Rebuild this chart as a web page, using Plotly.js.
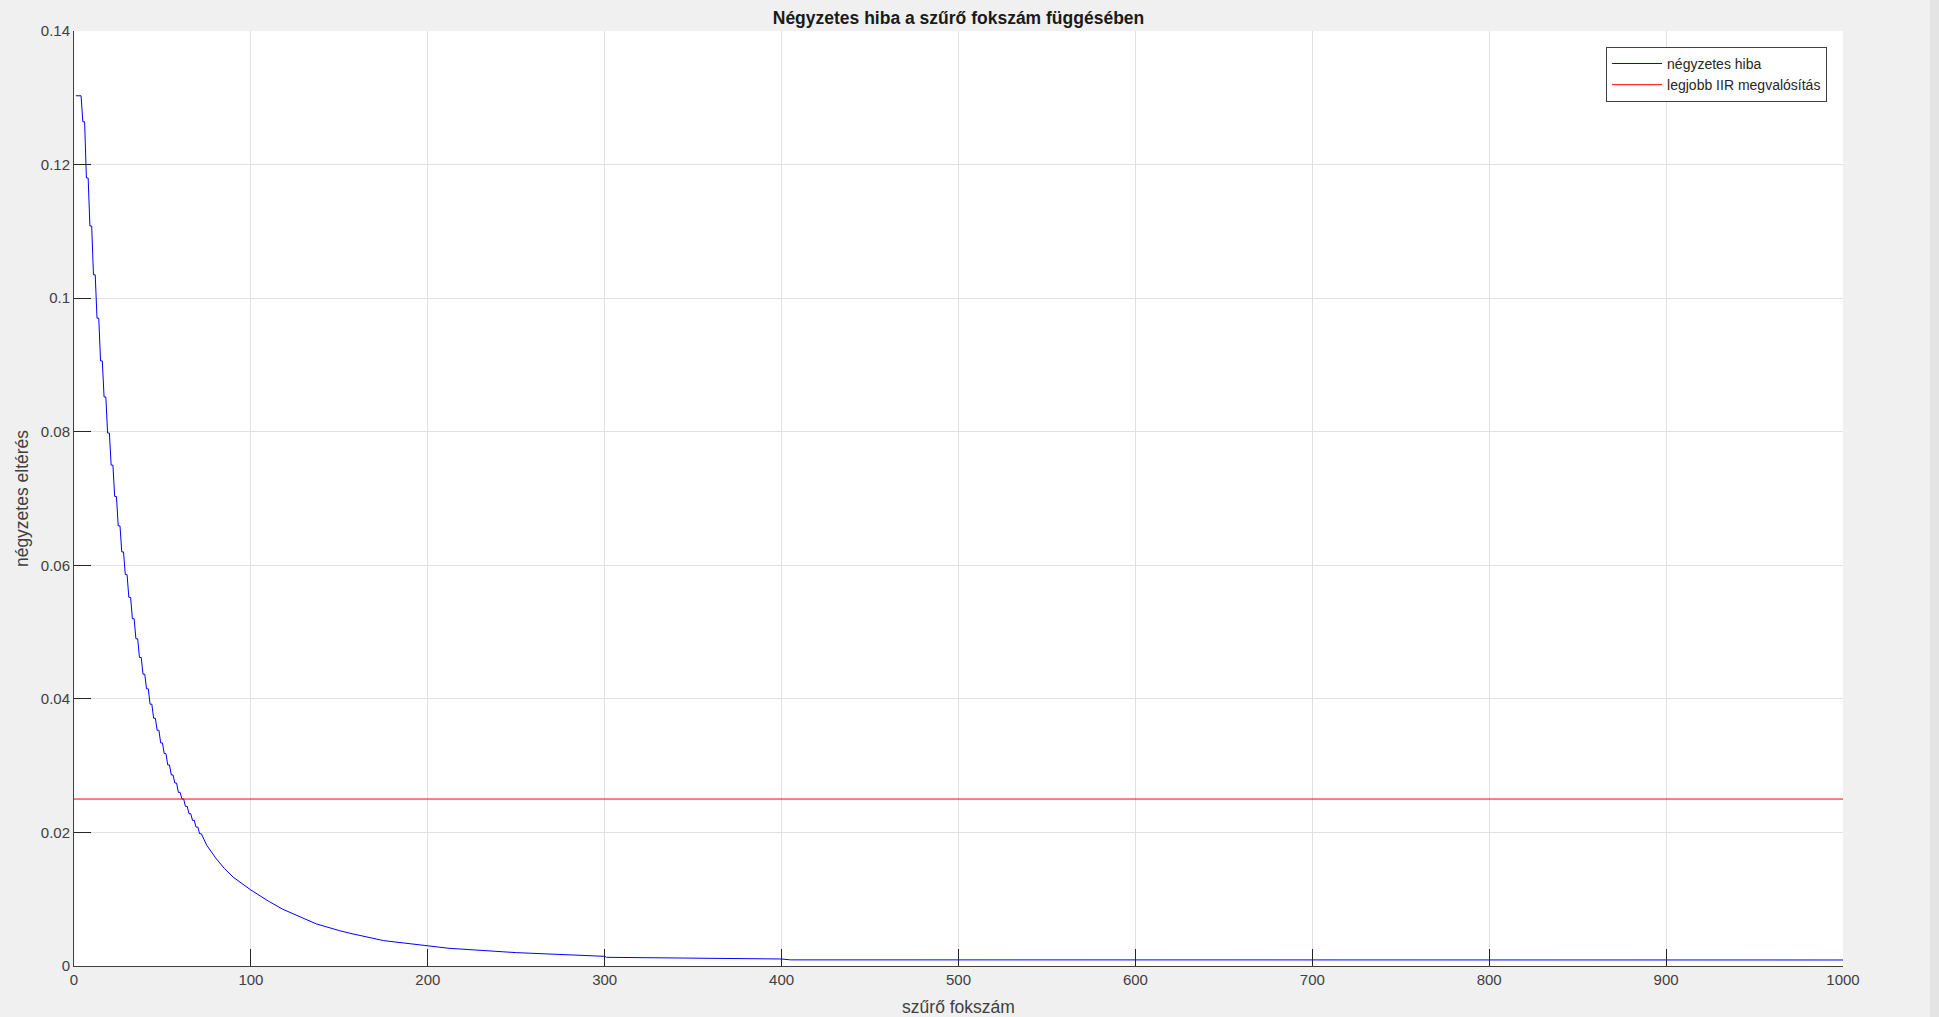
<!DOCTYPE html>
<html>
<head>
<meta charset="utf-8">
<script src="https://cdn.plot.ly/plotly-3.0.1.min.js"></script>
<style>
html,body{margin:0;padding:0;background:#F0F0F0;}
#chart{width:1939px;height:1017px;}
</style>
</head>
<body>
<div id="chart"></div>
<script>
// Filter order (szűrő fokszám)
const filterOrder = [
  1,2,3,4,5,6,7,8,9,10,
  11,12,13,14,15,16,17,18,19,20,
  21,22,23,24,25,26,27,28,29,30,
  31,32,33,34,35,36,37,38,39,40,
  41,42,43,44,45,46,47,48,49,50,
  51,52,53,54,55,56,57,58,59,60,
  61,62,63,64,65,66,67,68,69,70,
  71,72,75,80,85,90,100,110,118,130,
  137,150,156,175,200,212,250,275,300,301,
  350,400,405,1000
];
// Squared error (négyzetes hiba)
const squaredError = [
  0.1303,0.1303,0.1303,0.1303,0.1264,0.1264,0.1180,0.1180,0.1108,0.1108,
  0.1035,0.1035,0.0970,0.0970,0.0906,0.0906,0.0852,0.0852,0.0798,0.0798,
  0.0750,0.0750,0.0703,0.0703,0.0659,0.0659,0.0620,0.0620,0.0586,0.0586,
  0.0552,0.0552,0.0520,0.0520,0.0490,0.0490,0.0462,0.0462,0.0437,0.0437,
  0.0415,0.0415,0.0392,0.0392,0.0371,0.0371,0.0353,0.0353,0.0334,0.0334,
  0.0318,0.0318,0.0301,0.0301,0.0286,0.0286,0.0274,0.0274,0.0260,0.0260,
  0.0250,0.0250,0.0239,0.0239,0.0228,0.0228,0.0218,0.0218,0.0208,0.0208,
  0.0198,0.0198,0.0181,0.0162,0.0146,0.0133,0.01138,0.0097,0.0085,0.0071,
  0.0063,0.0053,0.0049,0.0038,0.0030,0.00265,0.0020,0.0017,0.00145,0.0013,
  0.00115,0.00105,0.00092,0.00090
];
// Best IIR implementation (legjobb IIR megvalósítás)
const iirX = [0, 1000];
const iirError = [0.025, 0.025];

const seriesNames = ['négyzetes hiba', 'legjobb IIR megvalósítás'];
const titleText = 'Négyzetes hiba a szűrő fokszám függésében';
const xTitle = 'szűrő fokszám';
const yTitle = 'négyzetes eltérés';

const fontFam = 'Liberation Sans, Arial, Helvetica, sans-serif';
const textCol = '#404040';

const traces = [
  {x: filterOrder, y: squaredError, type: 'scatter', mode: 'lines', name: seriesNames[0],
   line: {color: 'rgb(0,0,255)', width: 1}},
  {x: iirX, y: iirError, type: 'scatter', mode: 'lines', name: seriesNames[1],
   line: {color: 'rgb(255,0,0)', width: 1}}
];

const layout = {
  width: 1939, height: 1017,
  paper_bgcolor: '#F0F0F0', plot_bgcolor: '#FFFFFF',
  margin: {l: 74, r: 96, t: 31, b: 51, pad: 0},
  font: {family: fontFam, color: textCol, size: 14},
  title: {text: '<b>' + titleText + '</b>', x: 0.5, xref: 'paper', xanchor: 'center',
          y: 1 - 18/1017, yanchor: 'middle', font: {family: fontFam, size: 17.5, color: '#1a1a1a'}},
  xaxis: {
    range: [0, 1000], dtick: 100, tick0: 0,
    showgrid: true, gridcolor: '#E0E0E0', gridwidth: 1,
    zeroline: false, showline: true, linecolor: '#404040', linewidth: 1,
    ticks: 'inside', ticklen: 17, tickcolor: '#262626', tickwidth: 1,
    tickfont: {family: fontFam, size: 15, color: textCol},
    title: {text: xTitle, font: {family: fontFam, size: 17.5, color: textCol}, standoff: 13},
    automargin: false, fixedrange: true
  },
  yaxis: {
    range: [0, 0.14], dtick: 0.02, tick0: 0,
    showgrid: true, gridcolor: '#E0E0E0', gridwidth: 1,
    zeroline: false, showline: true, linecolor: '#404040', linewidth: 1,
    ticks: 'inside', ticklen: 17, tickcolor: '#262626', tickwidth: 1,
    tickfont: {family: fontFam, size: 15, color: textCol},
    title: {text: yTitle, font: {family: fontFam, size: 17.5, color: textCol}, standoff: 7},
    automargin: false, fixedrange: true
  },
  showlegend: true,
  legend: {
    x: 0.991, y: 0.983, xanchor: 'right', yanchor: 'top',
    bgcolor: '#FFFFFF', bordercolor: '#404040', borderwidth: 1,
    font: {family: fontFam, size: 14, color: '#262626'},
    tracegroupgap: 0, itemwidth: 50
  },
  shapes: [
    {type: 'rect', xref: 'paper', yref: 'paper', x0: 1.0492, x1: 1.07, y0: -0.1, y1: 1.1,
     fillcolor: '#E4E4E4', line: {width: 0}, layer: 'below'}
  ]
};

Plotly.newPlot('chart', traces, layout, {displayModeBar: false, staticPlot: true});
</script>
</body>
</html>
